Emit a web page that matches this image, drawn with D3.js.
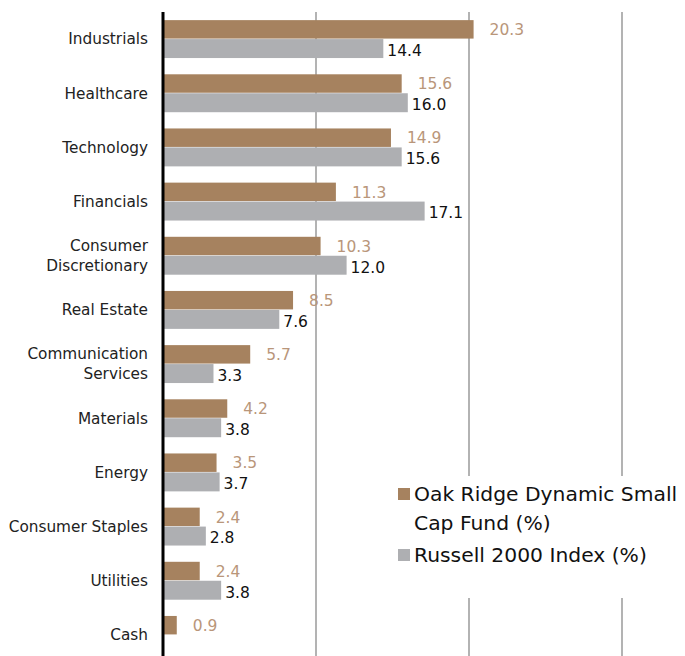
<!DOCTYPE html>
<html><head><meta charset="utf-8">
<script src="https://cdn.jsdelivr.net/npm/d3@7"></script>
<style>body{margin:0;background:#fff}svg{display:block}</style>
</head><body>
<svg id="c" width="685" height="656"></svg>
<script>
const categories = [["Industrials"],["Healthcare"],["Technology"],["Financials"],["Consumer","Discretionary"],["Real Estate"],["Communication","Services"],["Materials"],["Energy"],["Consumer Staples"],["Utilities"],["Cash"]];
const fundValues = [20.3,15.6,14.9,11.3,10.3,8.5,5.7,4.2,3.5,2.4,2.4,0.9];
const indexValues = [14.4,16.0,15.6,17.1,12.0,7.6,3.3,3.8,3.7,2.8,3.8,null];
const gridTicks = [10,20,30];
const seriesNames = ["Oak Ridge Dynamic Small|Cap Fund (%)","Russell 2000 Index (%)"];

const font = "'DejaVu Sans',sans-serif";
const brown = "#A6825F", gray = "#AEAFB2", brownText = "#B9967A";
const svg = d3.select("#c");
const keys = categories.map((c,i)=>i);
const x = d3.scaleLinear().domain([0,30]).range([163,622]);
const y = d3.scaleBand().domain(keys).range([12,662]).paddingInner(0.3).paddingOuter(0.15);
const sub = d3.scaleBand().domain([0,1]).range([0,y.bandwidth()]).padding(0);

// grid
svg.append("g").selectAll("line").data(gridTicks).join("line")
  .attr("x1",d=>x(d)).attr("x2",d=>x(d)).attr("y1",12).attr("y2",656)
  .attr("stroke","#9a9a9a").attr("stroke-width",1.5);

// bars
const g = svg.append("g");
keys.forEach(i=>{
  const y0 = y(i);
  g.append("rect").attr("x",x(0)).attr("y",y0+sub(0)).attr("width",x(fundValues[i])-x(0)).attr("height",sub.bandwidth()-0.5).attr("fill",brown);
  g.append("text").attr("x",x(fundValues[i])+16).attr("y",y0+sub(0)+sub.bandwidth()/2).attr("dy","0.35em")
    .attr("fill",brownText).attr("font-size",15.5).attr("font-family",font).text(fundValues[i].toFixed(1));
  if(indexValues[i]!=null){
    g.append("rect").attr("x",x(0)).attr("y",y0+sub(1)).attr("width",x(indexValues[i])-x(0)).attr("height",sub.bandwidth()).attr("fill",gray);
    g.append("text").attr("x",x(indexValues[i])+4).attr("y",y0+sub(1)+sub.bandwidth()/2+2).attr("dy","0.35em")
      .attr("fill","#111").attr("font-size",15.5).attr("font-family",font).text(indexValues[i].toFixed(1));
  }
  const lines = categories[i];
  const t = svg.append("text").attr("text-anchor","end").attr("font-size",15.3).attr("font-family",font).attr("fill","#222");
  lines.forEach((l,k)=>{
    t.append("tspan").attr("x",148).attr("y",y0+y.bandwidth()/2+(k-(lines.length-1)/2)*20).attr("dy","0.35em").text(l);
  });
});

// axis
svg.append("line").attr("x1",x(0)).attr("x2",x(0)).attr("y1",12).attr("y2",656).attr("stroke","#000").attr("stroke-width",3);

// legend
const lg = svg.append("g");
lg.append("rect").attr("x",392).attr("y",476).attr("width",293).attr("height",122).attr("fill","#fff");
const legendColors=[brown,gray];
const legendY=[494,555];
seriesNames.forEach((n,i)=>{
  lg.append("rect").attr("x",398).attr("y",legendY[i]-6).attr("width",12).attr("height",12).attr("fill",legendColors[i]);
  const t = lg.append("text").attr("font-size",20.3).attr("font-family",font).attr("fill","#111");
  n.split("|").forEach((l,k)=>t.append("tspan").attr("x",414).attr("y",legendY[i]+k*29).attr("dy","0.35em").text(l));
});
</script>
</body></html>
